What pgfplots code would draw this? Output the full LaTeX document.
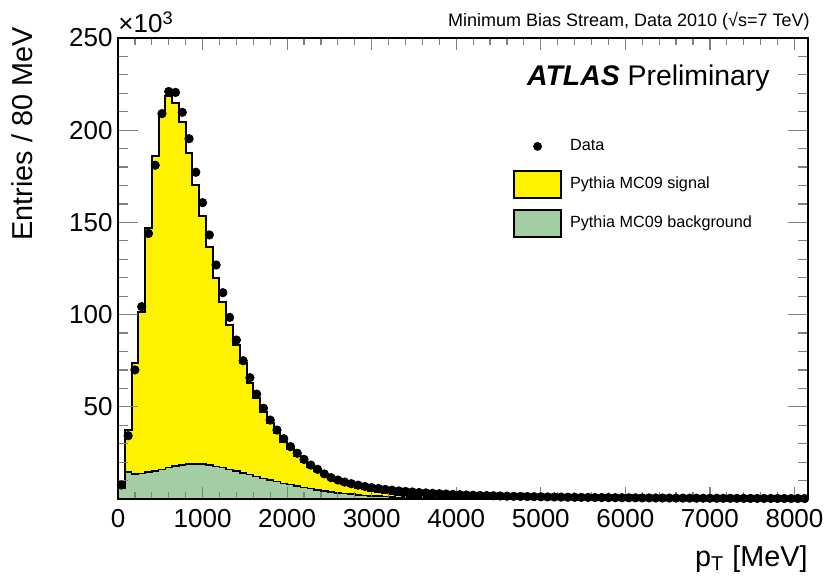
\documentclass[border=0pt]{standalone}
\usepackage{pgfplots}
\pgfplotsset{compat=1.18}
\usepackage{pgfplotstable}
\usepackage{fontspec}
\setmainfont{Liberation Sans}
\definecolor{bggreen}{RGB}{163,206,163}

\pgfplotstableread{
x total bg
0 7 6
80 37.4 14.8
160 73.6 13.4
240 101.6 13.9
320 147 14.5
400 186 15.2
480 209.7 16.1
560 218.5 17
640 214.9 17.9
720 204.6 18.4
800 187.8 19
880 170.3 19
960 153.5 19
1040 136.5 18.3
1120 119.7 17.7
1200 107 17
1280 94.4 16
1360 83.5 15.2
1440 73.6 14.1
1520 62.7 13.2
1600 55 12.1
1680 47 11.2
1760 41 10.3
1840 35.6 9.4
1920 31 8.5
2000 27 7.8
2080 23.5 7
2160 20.3 6.3
2240 17.5 5.6
2320 15.1 4.9
2400 12.8 4.4
2480 10.9 3.9
2560 9.5 3.4
2640 8.3 3
2720 7.2 2.6
2800 6.2 2.3
2880 5.4 2
2960 4.6 1.7
3040 3.9 1.5
3120 3.3 1.3
3200 2.8 1.1
3280 2.3 0.9
3360 1.9 0.8
3440 1.5 0.7
3520 1.2 0.6
3600 0.9 0.5
3680 0.7 0.4
3760 0.5 0.3
3840 0.35 0.25
3920 0.25 0.2
4000 0.15 0.15
4080 0.1 0.1
4160 0.05 0.05
4240 0 0
}\mctable

\pgfplotstableread{
x y
40 7.6
120 34.3
200 70
280 104.3
360 144
440 181
520 209
600 221
680 220.5
760 209.7
840 195.4
920 177.2
1000 160.7
1080 143.2
1160 126.9
1240 111.9
1320 98.5
1400 86.2
1480 75
1560 65.8
1640 56.9
1720 49.2
1800 42.8
1880 37.4
1960 32.7
2040 28.4
2120 24.8
2200 21.5
2280 18.4
2360 16.1
2440 13.6
2520 11.6
2600 10.3
2680 9.2
2760 8.3
2840 7.5
2920 6.8
3000 6.2
3080 5.7
3160 5.2
3240 4.8
3320 4.4
3400 4.1
3480 3.8
3560 3.5
3640 3.3
3720 3.1
3800 2.9
3880 2.7
3960 2.5
4040 2.35
4120 2.2
4200 2.05
4280 1.95
4360 1.85
4440 1.75
4520 1.65
4600 1.55
4680 1.48
4760 1.4
4840 1.33
4920 1.26
5000 1.2
5080 1.14
5160 1.08
5240 1.03
5320 0.98
5400 0.94
5480 0.9
5560 0.86
5640 0.82
5720 0.78
5800 0.75
5880 0.72
5960 0.69
6040 0.66
6120 0.63
6200 0.61
6280 0.58
6360 0.56
6440 0.54
6520 0.52
6600 0.5
6680 0.48
6760 0.46
6840 0.44
6920 0.43
7000 0.41
7080 0.4
7160 0.38
7240 0.37
7320 0.36
7400 0.34
7480 0.33
7560 0.32
7640 0.31
7720 0.3
7800 0.29
7880 0.28
7960 0.27
8040 0.26
8120 0.25
}\datatable

\begin{document}
\begin{tikzpicture}
\useasboundingbox (-59pt,-40pt) rectangle (353.5pt,249.5pt);
\begin{axis}[
  at={(0,0)}, anchor=south west,
  scale only axis, width=345pt, height=230.5pt,
  xmin=0, xmax=8160, ymin=0, ymax=250,
  clip=false,
  axis on top,
  axis line style={line width=0.75pt},
  tick align=inside,
  tick pos=both,
  xtick={0,1000,...,8000},
  minor xtick={200,400,...,8000},
  ytick={50,100,...,250},
  minor ytick={10,20,...,240},
  xtick style={line width=0.6pt, /pgfplots/major tick length=6pt, /pgfplots/minor tick length=3.3pt},
  ytick style={line width=0.6pt, /pgfplots/major tick length=10pt, /pgfplots/minor tick length=5pt},
  /pgf/number format/assume math mode=true,
  /pgf/number format/1000 sep={},
  tick label style={font=\fontsize{13}{15}\selectfont},
  xticklabel style={inner sep=0pt, yshift=-5pt},
  yticklabel style={inner sep=0pt, xshift=-2.5pt},
  xlabel={p\textsubscript{T} [MeV]},
  ylabel={Entries / 80 MeV},
  label style={font=\fontsize{14.4}{16}\selectfont, inner sep=0pt},
  xlabel style={at={(rel axis cs:1,-0.13)}, anchor=east},
  ylabel style={at={(rel axis cs:-0.139,1.024)}, anchor=east, rotate=0},
  legend style={draw=none, fill=none, at={(rel axis cs:0.572,0.795)}, anchor=north west,
    font=\fontsize{8.1}{9.6}\selectfont, row sep=5pt, inner sep=0pt, nodes={inner sep=1pt},
    /tikz/every odd column/.append style={column sep=3pt}},
  legend cell align=left,
]
\addplot[const plot mark left, fill=yellow, draw=black, line width=1pt, forget plot]
  table[x=x, y=total] {\mctable} \closedcycle;
\addplot[const plot mark left, fill=bggreen, draw=black, line width=0.8pt, forget plot]
  table[x=x, y=bg] {\mctable} \closedcycle;
\addplot[only marks, mark=*, mark size=2.1pt, black, forget plot]
  table[x=x, y=y] {\datatable};

\addlegendimage{legend image code/.code={\path[draw=none, fill=none] (0pt,-6.75pt) rectangle (23.5pt,6.75pt); \fill[black] (11.75pt,0pt) circle (2pt);}}
\addlegendentry{Data}
\addlegendimage{legend image code/.code={\draw[fill=yellow, line width=1pt] (0pt,-6.75pt) rectangle (23.5pt,6.75pt);}}
\addlegendentry{Pythia MC09 signal}
\addlegendimage{legend image code/.code={\draw[fill=bggreen, line width=1pt] (0pt,-6.75pt) rectangle (23.5pt,6.75pt);}}
\addlegendentry{Pythia MC09 background}

\node[anchor=base east, font=\fontsize{14.2}{16}\selectfont, inner sep=0pt] at (rel axis cs:0.945,0.898) {\textbf{\textit{ATLAS}} Preliminary};
\node[anchor=east, font=\fontsize{9}{11}\selectfont, inner sep=0pt] at (rel axis cs:1.003,1.036) {Minimum Bias Stream, Data 2010 (√s=7 TeV)};
\node[anchor=base west, font=\fontsize{13}{15}\selectfont, inner sep=0pt] at (rel axis cs:0,1.011) {×10\textsuperscript{3}};
\end{axis}
\end{tikzpicture}
\end{document}
